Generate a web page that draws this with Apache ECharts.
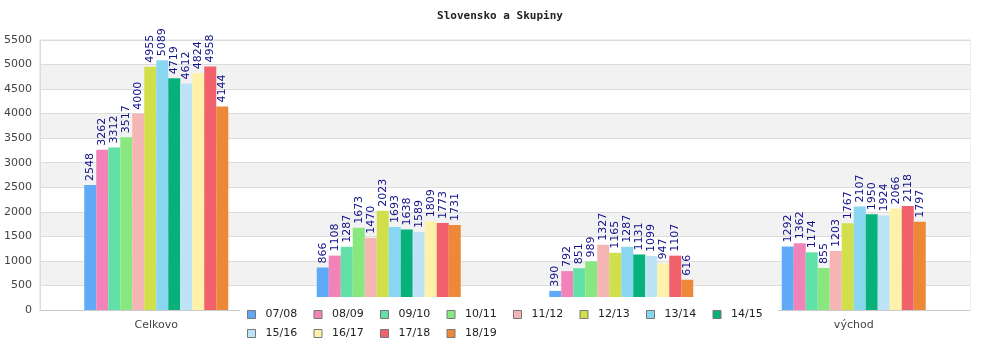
<!DOCTYPE html>
<html>
<head>
<meta charset="utf-8">
<script src="https://cdn.jsdelivr.net/npm/echarts@6/dist/echarts.min.js"></script>
<style>html,body{margin:0;padding:0;background:#fff;}#c{width:1000px;height:350px;}</style>
</head>
<body>
<div id="c"></div>
<script>
const categories = ['Celkovo', 'západ', 'stred', 'východ'];
const seasons = ['07/08','08/09','09/10','10/11','11/12','12/13','13/14','14/15','15/16','16/17','17/18','18/19'];
const v0708 = [2548, 866, 390, 1292];
const v0809 = [3262, 1108, 792, 1362];
const v0910 = [3312, 1287, 851, 1174];
const v1011 = [3517, 1673, 989, 855];
const v1112 = [4000, 1470, 1327, 1203];
const v1213 = [4955, 2023, 1165, 1767];
const v1314 = [5089, 1693, 1287, 2107];
const v1415 = [4719, 1638, 1131, 1950];
const v1516 = [4612, 1589, 1099, 1924];
const v1617 = [4824, 1809, 947, 2066];
const v1718 = [4958, 1773, 1107, 2118];
const v1819 = [4144, 1731, 616, 1797];
const yTicks = {min: 0, max: 5500, interval: 500};

const values = [v0708, v0809, v0910, v1011, v1112, v1213, v1314, v1415, v1516, v1617, v1718, v1819];
const colors = ['#60a9f6','#f283b9','#61e0a8','#88e87f','#f5b5b5','#d1df4a','#88d6f0','#08b07a','#bde3f7','#fef1aa','#f0616b','#ed8838'];

const chart = echarts.init(document.getElementById('c'), null, {renderer: 'canvas'});
const series = seasons.map((s, i) => ({
  name: s,
  type: 'bar',
  data: values[i],
  barWidth: 12,
  barGap: '0%',
  itemStyle: {color: colors[i]},
  label: {
    show: true,
    position: 'top',
    rotate: 90,
    align: 'left',
    verticalAlign: 'middle',
    distance: 4,
    color: '#10108a',
    fontFamily: 'DejaVu Sans',
    fontSize: 11
  }
}));

chart.setOption({
  animation: false,
  color: colors,
  title: {
    text: 'Slovensko a Skupiny',
    left: 'center',
    top: 6,
    textStyle: {fontFamily: 'DejaVu Sans Mono', fontWeight: 'bold', fontSize: 11, color: '#222'}
  },
  grid: {left: 40, right: 30, top: 40, bottom: 40, show: true, borderColor: '#dcdcdc', borderWidth: 1, backgroundColor: 'transparent'},
  legend: {
    left: 240,
    top: 297,
    width: 530,
    padding: [12, 7, 12, 7],
    backgroundColor: '#fff',
    itemWidth: 8,
    itemHeight: 8,
    itemGap: 8,
    icon: 'rect',
    itemStyle: {borderColor: '#777', borderWidth: 1},
    textStyle: {fontFamily: 'DejaVu Sans', fontSize: 11, color: '#222', width: 40, padding: [0, 0, 0, 5], lineHeight: 11},
    z: 10,
    data: seasons
  },
  xAxis: {
    type: 'category',
    data: categories,
    axisLine: {lineStyle: {color: '#cccccc'}},
    axisTick: {show: false},
    axisLabel: {fontFamily: 'DejaVu Sans', fontSize: 11, color: '#444', margin: 10}
  },
  yAxis: {
    type: 'value',
    min: yTicks.min,
    max: yTicks.max,
    interval: yTicks.interval,
    axisLine: {show: true, lineStyle: {color: '#dcdcdc'}},
    axisTick: {show: false},
    axisLabel: {fontFamily: 'DejaVu Sans', fontSize: 11, color: '#444', margin: 8, formatter: function (v) { return String(v); }},
    splitLine: {lineStyle: {color: '#dcdcdc'}},
    splitArea: {show: true, areaStyle: {color: ['#ffffff', '#f2f2f2']}}
  },
  series: series
});
</script>
</body>
</html>
